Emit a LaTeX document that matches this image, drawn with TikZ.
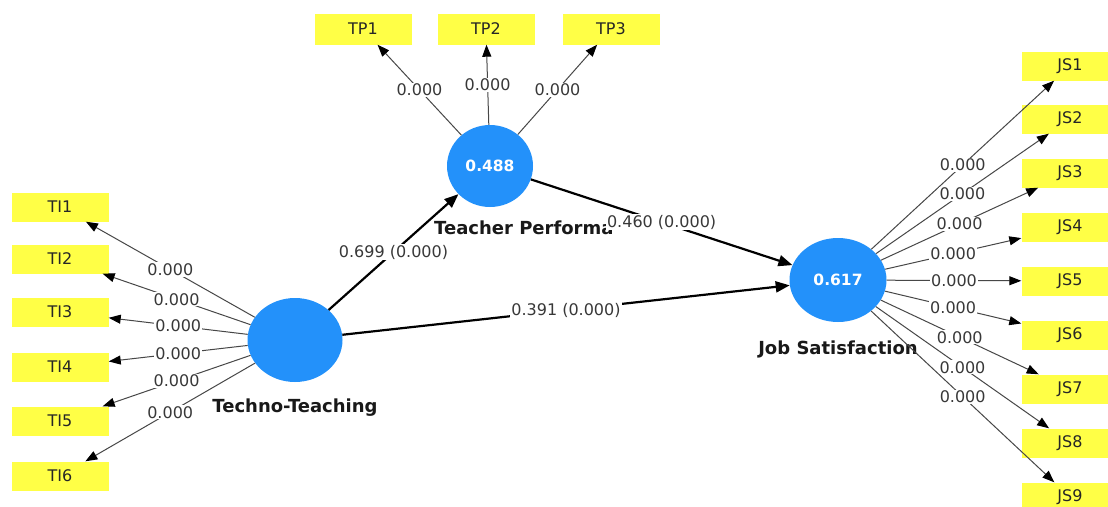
\documentclass[tikz,border=0pt]{standalone}
\usepackage{fontspec}
\setmainfont{DejaVu Sans}
\usetikzlibrary{arrows.meta,shapes.geometric}
\definecolor{lvblue}{RGB}{35,145,250}
\definecolor{indyel}{RGB}{255,255,70}
\begin{document}
\begin{tikzpicture}[x=1pt,y=-1pt,
  lv/.style={ellipse,fill=lvblue,minimum width=95pt,minimum height=84pt,inner sep=0pt,
             text=white,font=\bfseries\fontsize{15.5}{17}\selectfont},
  ind/.style={fill=indyel,minimum width=97pt,minimum height=29pt,inner sep=0pt,
              text=black!85,font=\fontsize{16}{18}\selectfont},
  lvname/.style={font=\bfseries\fontsize{18}{20}\selectfont,text=black!90,inner sep=0pt},
  load/.style={draw=black!72,line width=1pt,-{Triangle[length=12pt,width=9pt,color=black]}},
  strpath/.style={draw=black,line width=2.2pt,-{Triangle[length=14pt,width=11pt]}},
  lab/.style={fill=white,inner sep=1pt,font=\fontsize{16}{18}\selectfont,text=black!78}]
\useasboundingbox (0,0) rectangle (1108,506);
\fill[white] (0,0) rectangle (1108,506);

% indicators
\node[ind] (ti1) at (60,207) {TI1};
\node[ind] (ti2) at (60,259) {TI2};
\node[ind] (ti3) at (60,312) {TI3};
\node[ind] (ti4) at (60,367) {TI4};
\node[ind] (ti5) at (60,421) {TI5};
\node[ind] (ti6) at (60,476) {TI6};

\node[ind,minimum height=31pt] (tp1) at (363,29) {TP1};
\node[ind,minimum height=31pt] (tp2) at (486,29) {TP2};
\node[ind,minimum height=31pt] (tp3) at (611,29) {TP3};

\node[ind] (js1) at (1070,66) {JS1};
\node[ind] (js2) at (1070,119) {JS2};
\node[ind] (js3) at (1070,173) {JS3};
\node[ind] (js4) at (1070,227) {JS4};
\node[ind] (js5) at (1070,281) {JS5};
\node[ind] (js6) at (1070,335) {JS6};
\node[ind] (js7) at (1070,389) {JS7};
\node[ind] (js8) at (1070,443) {JS8};
\node[ind] (js9) at (1070,497) {JS9};

% latent variables
\node[lv] (tt) at (295,340) {};
\node[lv,minimum width=86pt,minimum height=82pt] (tp) at (490,166) {0.488};
\node[lv,minimum width=97pt,minimum height=84pt] (js) at (838,280) {0.617};

\node[lvname] (ttn) at (295,408) {Techno-Teaching};
\node[lvname] (jsn) at (838,349) {Job Satisfaction};
\node[lvname,anchor=west] (tpn) at (434,228) {Teacher Performa};

% outer loadings
\foreach \i in {1,...,6} {
  \draw[load] (tt) -- node[lab] {0.000} (ti\i);
}
\foreach \i in {1,2,3} {
  \draw[load] (tp) -- node[lab] {0.000} (tp\i);
}
\foreach \i in {1,...,9} {
  \draw[load] (js) -- node[lab] {0.000} (js\i);
}

% structural paths
\draw[strpath] (tt) -- node[lab] {0.699 (0.000)} (tp);
\draw[strpath] (tp) -- node[lab] {0.460 (0.000)} (js);
\draw[strpath] (tt) -- node[lab] {0.391 (0.000)} (js);
\end{tikzpicture}
\end{document}
